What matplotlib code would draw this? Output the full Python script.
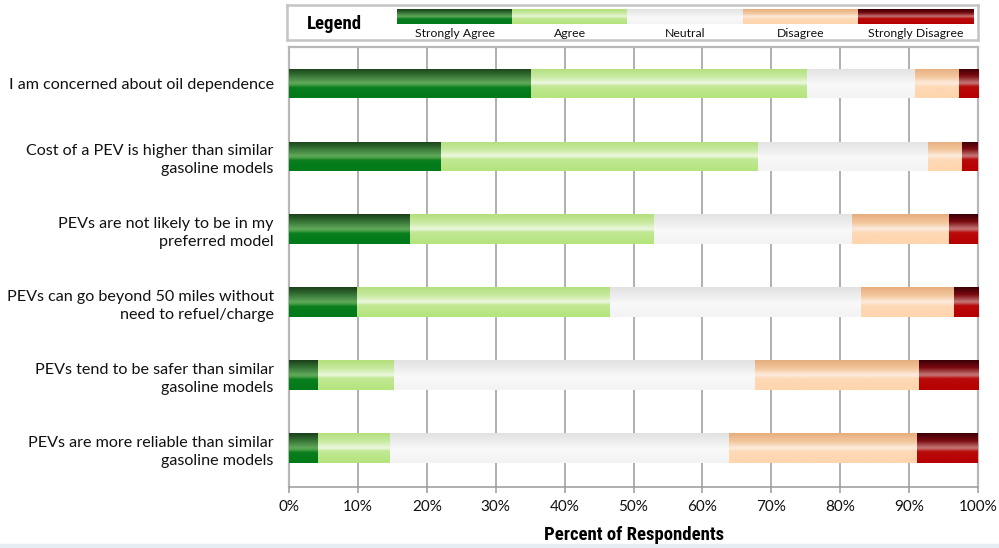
import numpy as np
import matplotlib
matplotlib.use("Agg")
import matplotlib.pyplot as plt
from matplotlib.colors import to_rgb
from matplotlib import font_manager

# Survey statements (top to bottom) and response shares in percent
statements = [
    "I am concerned about oil dependence",
    "Cost of a PEV is higher than similar\ngasoline models",
    "PEVs are not likely to be in my\npreferred model",
    "PEVs can go beyond 50 miles without\nneed to refuel/charge",
    "PEVs tend to be safer than similar\ngasoline models",
    "PEVs are more reliable than similar\ngasoline models",
]
responses = ["Strongly Agree", "Agree", "Neutral", "Disagree", "Strongly Disagree"]
strongly_agree = [35.1, 22.1, 17.6, 9.9, 4.2, 4.2]
agree = [40.1, 45.9, 35.4, 36.7, 11.0, 10.4]
neutral = [15.6, 24.7, 28.7, 36.4, 52.5, 49.2]
disagree = [6.4, 5.0, 14.1, 13.5, 23.7, 27.4]
strongly_disagree = [2.8, 2.3, 4.2, 3.5, 8.6, 8.8]
series = [strongly_agree, agree, neutral, disagree, strongly_disagree]
xticks = [0, 10, 20, 30, 40, 50, 60, 70, 80, 90, 100]

# Vertical glossy gradients (position from top, colour) for each response
gradient_stops = [
    [(0.0, "#1b3f1b"), (0.2, "#2f6a2f"), (0.5, "#62aa5c"), (0.58, "#3e9a3e"),
     (0.64, "#0a7e1e"), (1.0, "#007a1a")],
    [(0.0, "#b3df7c"), (0.3, "#cbeba4"), (0.5, "#eef8e2"), (0.6, "#c2e895"),
     (1.0, "#b4e47c")],
    [(0.0, "#e2e2e2"), (0.45, "#f4f4f4"), (0.55, "#f9f9f9"), (1.0, "#f3f3f3")],
    [(0.0, "#e6ad7e"), (0.3, "#f4c9a0"), (0.5, "#fdece0"), (0.62, "#fed9b6"),
     (1.0, "#fed5ad")],
    [(0.0, "#3a0007"), (0.25, "#7a0a10"), (0.5, "#c87a7a"), (0.62, "#b80a0a"),
     (1.0, "#b80000")],
]


def gradient_image(stops, n=64):
    pos = np.array([s[0] for s in stops])
    cols = np.array([to_rgb(s[1]) for s in stops])
    t = np.linspace(0, 1, n)
    img = np.stack([np.interp(t, pos, cols[:, c]) for c in range(3)], axis=1)
    return img[:, None, :]


def fill_gradient(ax, patch, img):
    x0, y0 = patch.get_x(), patch.get_y()
    w, h = patch.get_width(), patch.get_height()
    im = ax.imshow(img, extent=[x0, x0 + w, y0 + h, y0], aspect="auto",
                   interpolation="bicubic", zorder=3)
    im.set_clip_path(patch)


def pick_family(candidates):
    names = {f.name for f in font_manager.fontManager.ttflist}
    for c in candidates:
        if c in names:
            return c
    return "DejaVu Sans"


heading_family = pick_family(["Roboto Condensed", "Liberation Sans Narrow",
                              "Open Sans Condensed", "Liberation Sans"])

plt.rcParams["font.family"] = ["Lato", "DejaVu Sans"]

fig = plt.figure(figsize=(9.99, 5.48), dpi=100)
fig.patch.set_facecolor("white")

ax = fig.add_axes([0.2893, 0.1113, 0.6897, 0.8029])
ypos = np.arange(len(statements))
left = np.zeros(len(statements))
for vals, stops in zip(series, gradient_stops):
    bars = ax.barh(ypos, vals, left=left, height=0.41, color="none",
                   edgecolor="none", zorder=3)
    img = gradient_image(stops)
    for patch in bars.patches:
        fill_gradient(ax, patch, img)
    left = left + np.array(vals)

ax.set_xlim(0, 100)
ax.set_ylim(5.53, -0.5)
ax.set_xticks(xticks)
ax.set_xticklabels([f"{v}%" for v in xticks], fontsize=11, color="#111111")
ax.set_yticks(ypos)
ax.set_yticklabels(statements, fontsize=11.6, color="#111111", linespacing=1.35)
ax.tick_params(axis="y", length=0, pad=11)
ax.tick_params(axis="x", length=4, width=1.1, color="#9a9a9a", pad=5)
ax.xaxis.grid(True, color="#9a9a9a", linewidth=1.1, zorder=1)
ax.set_axisbelow(True)
for side, sp in ax.spines.items():
    sp.set_color("#b8b8b8")
    sp.set_linewidth(1.6)
ax.spines["bottom"].set_color("#9a9a9a")
ax.spines["bottom"].set_linewidth(1.1)
ax.set_xlabel("Percent of Respondents", fontsize=13.5, fontweight="bold",
              family=[heading_family, "DejaVu Sans"], labelpad=9)

# Legend panel across the top
lax = fig.add_axes([0.2873, 0.927, 0.6917, 0.0639])
lax.set_xticks([])
lax.set_yticks([])
for sp in lax.spines.values():
    sp.set_color("#c4c4c4")
    sp.set_linewidth(1.8)
lax.text(47, 19, "Legend", fontsize=13.5, fontweight="bold",
         family=[heading_family, "DejaVu Sans"], ha="center", va="center")
sw_left, sw_w = 110, 115.2
for i, (name, stops) in enumerate(zip(responses, gradient_stops)):
    x0 = sw_left + i * sw_w
    lax.imshow(gradient_image(stops), extent=[x0, x0 + sw_w, 19, 5],
               aspect="auto", interpolation="bicubic")
    lax.text(x0 + sw_w / 2, 28, name, fontsize=8.8, ha="center", va="center",
             color="#111111")
lax.set_xlim(0, 691)
lax.set_ylim(35, 0)

# thin tinted strip along the bottom edge
fig.add_artist(plt.Rectangle((0, 0), 1, 0.008, transform=fig.transFigure,
                             color="#e6edf3", zorder=0))

fig.savefig("out.png", dpi=100)
